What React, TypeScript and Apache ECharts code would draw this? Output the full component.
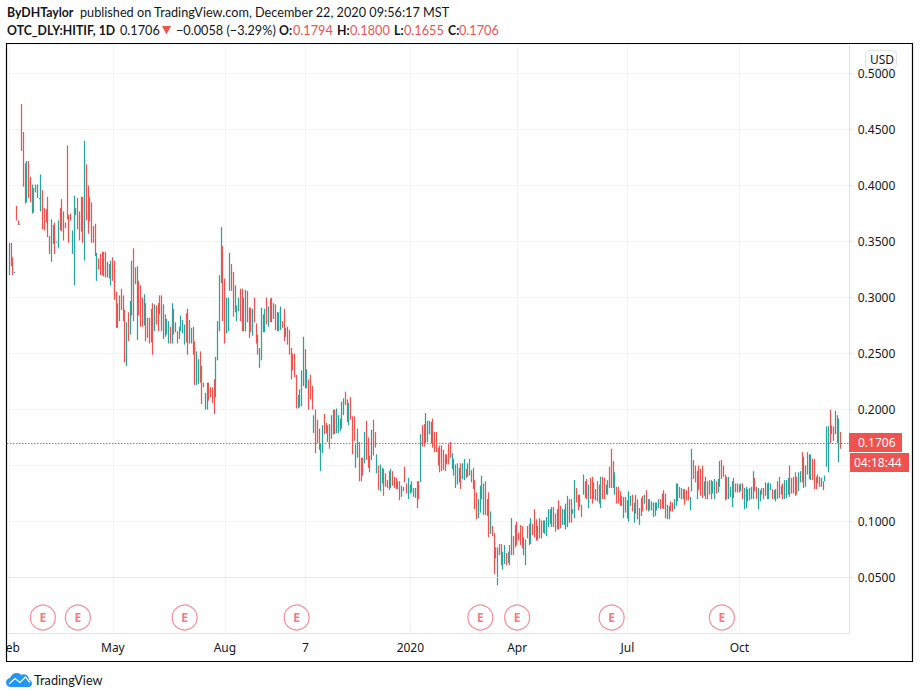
import React, { useEffect, useRef } from "react";
import * as echarts from "echarts";

// Each row: [high, low, up(1) / down(0)]
const barsFeb2019: number[][] = [
[.349,.320,1],[.349,.328,0],[.336,.320,0],[.323,.322,1],[.382,.369,0],[.369,.365,0],[.366,.365,1],[.473,.431,0],[.448,.399,0],[.420,.384,0],
[.422,.385,1],[.422,.389,0],[.408,.385,0],[.401,.375,1],[.398,.376,0],[.401,.394,1],[.401,.389,1],[.389,.388,1],[.410,.377,1],[.396,.361,0],
[.380,.360,0],[.379,.367,0],[.390,.354,0],[.355,.339,0],[.370,.332,1],[.365,.348,1],[.367,.339,0],[.350,.349,1],[.369,.344,1],[.380,.360,0],
[.388,.359,0],[.377,.351,0],[.367,.362,0],[.436,.370,0],[.374,.349,0],[.375,.369,0],[.360,.339,1],[.391,.311,1],[.380,.374,1],[.389,.361,0],
[.377,.351,0],[.390,.359,0],[.390,.349,0],[.440,.333,1],[.419,.369,0],[.400,.357,0],[.390,.368,0],[.385,.349,0],[.364,.349,0],[.366,.337,0],
[.340,.315,1],[.335,.325,0],[.339,.320,0],[.341,.320,0],[.341,.319,0],[.341,.318,0],[.332,.318,1],[.330,.317,0],[.333,.311,1],[.336,.315,0],[.333,.298,0],
];
const barsMay2019: number[][] = [
[.305,.273,0],[.295,.273,0],[.302,.279,1],[.308,.289,0],[.302,.279,0],[.289,.242,0],[.278,.239,1],[.287,.261,0],[.297,.267,1],[.333,.284,1],
[.344,.279,0],[.327,.312,0],[.328,.262,1],[.315,.284,0],[.311,.274,0],[.300,.274,0],[.303,.275,1],[.295,.261,0],[.282,.264,0],[.282,.259,0],
[.290,.260,0],[.295,.249,0],[.294,.270,1],[.293,.276,0],[.295,.270,0],[.302,.285,0],[.302,.270,0],[.294,.263,1],[.285,.265,0],[.281,.267,1],
[.279,.259,1],[.274,.259,0],[.295,.259,1],[.290,.267,0],[.278,.269,1],[.270,.259,0],[.274,.263,1],[.284,.270,1],[.280,.268,1],[.276,.258,1],
[.286,.260,0],[.290,.249,0],[.280,.259,1],[.273,.259,1],[.274,.249,0],[.261,.222,0],[.252,.222,1],[.245,.223,1],[.252,.224,0],[.239,.205,0],
[.224,.220,0],[.215,.200,1],[.224,.200,1],[.224,.208,0],[.220,.211,0],[.220,.206,0],[.227,.196,0],[.247,.211,1],[.279,.244,1],[.320,.270,1],
];
const barsAug2019: number[][] = [
[.363,.313,1],[.346,.279,0],[.317,.259,0],[.300,.268,1],[.300,.270,1],[.340,.306,1],[.330,.306,0],[.323,.283,0],[.311,.287,1],[.293,.279,1],
[.300,.288,1],[.308,.279,0],[.308,.270,0],[.300,.270,1],[.307,.270,1],[.306,.278,0],[.291,.264,0],[.291,.269,0],[.290,.266,1],[.300,.278,0],
[.277,.259,0],[.267,.249,0],[.255,.237,1],[.291,.244,1],[.285,.269,1],[.290,.269,1],[.300,.276,0],[.292,.274,1],[.299,.278,0],[.300,.278,0],
[.295,.281,1],[.294,.271,0],[.287,.270,0],[.287,.270,1],[.292,.271,1],[.279,.273,0],[.290,.261,0],[.273,.265,1],[.274,.258,0],[.271,.249,0],
[.255,.227,0],[.250,.235,0],[.250,.229,0],[.231,.201,0],[.213,.201,1],[.218,.202,1],[.235,.203,1],[.265,.221,1],[.254,.219,0],[.236,.219,1],
];
const barsOct2019: number[][] = [
[.227,.200,0],[.231,.209,0],[.221,.200,0],[.195,.179,1],[.200,.161,0],[.191,.170,0],[.183,.164,0],[.170,.145,1],[.186,.161,1],[.196,.178,0],
[.188,.179,0],[.186,.171,1],[.187,.165,0],[.195,.174,1],[.200,.178,1],[.200,.178,0],[.201,.179,1],[.195,.179,1],[.192,.181,1],[.207,.183,1],
[.210,.195,1],[.216,.204,0],[.209,.189,0],[.206,.186,1],[.211,.191,0],[.194,.160,0],[.194,.172,0],[.169,.148,1],[.183,.157,1],[.171,.136,0],
[.157,.136,0],[.157,.141,0],[.180,.152,1],[.190,.155,0],[.175,.148,0],[.159,.144,0],[.182,.155,1],[.191,.159,0],[.180,.166,0],[.160,.143,1],
[.150,.128,0],[.151,.127,1],[.148,.134,1],[.147,.123,0],[.143,.131,0],[.137,.130,0],[.145,.128,0],[.147,.130,1],[.145,.132,0],[.140,.130,0],
[.139,.129,0],[.136,.129,1],[.136,.119,0],[.132,.122,1],[.131,.127,1],[.149,.135,0],[.134,.125,0],[.139,.120,1],[.133,.125,1],[.136,.126,1],
];
const barsJan2020: number[][] = [
[.130,.122,1],[.130,.121,1],[.136,.112,0],[.136,.120,0],[.178,.135,1],[.186,.167,0],[.187,.167,0],[.197,.170,1],[.190,.171,1],[.190,.178,1],
[.189,.170,1],[.192,.166,0],[.180,.162,0],[.180,.162,0],[.166,.150,0],[.168,.144,0],[.168,.145,0],[.164,.146,0],[.160,.145,0],[.160,.151,0],
[.169,.151,0],[.171,.157,0],[.161,.147,1],[.156,.141,1],[.151,.130,1],[.152,.133,1],[.148,.135,1],[.152,.129,0],[.152,.138,1],[.156,.137,1],
[.147,.139,0],[.152,.140,1],[.156,.141,1],[.146,.135,1],[.148,.129,0],[.137,.111,0],[.126,.102,0],[.120,.103,1],[.132,.108,1],[.141,.120,1],
[.134,.106,1],[.136,.106,0],[.120,.105,0],[.126,.086,0],[.109,.089,1],[.096,.087,0],[.090,.053,0],[.077,.067,0],[.077,.043,1],[.080,.070,0],
[.080,.061,0],[.073,.057,1],[.079,.062,1],[.072,.061,0],[.073,.063,1],[.079,.061,0],[.103,.070,1],[.087,.070,0],[.097,.077,0],[.100,.079,0],
];
const barsApr2020: number[][] = [
[.090,.083,0],[.097,.079,0],[.096,.076,0],[.086,.070,1],[.084,.061,1],[.096,.085,0],[.098,.079,0],[.103,.080,1],[.098,.088,0],[.111,.086,0],
[.102,.083,0],[.096,.083,1],[.103,.085,0],[.101,.085,0],[.101,.090,0],[.101,.089,1],[.104,.087,1],[.111,.095,1],[.111,.098,1],[.113,.095,1],
[.113,.095,0],[.107,.091,0],[.111,.093,1],[.119,.093,0],[.114,.094,0],[.111,.097,1],[.111,.097,1],[.116,.093,1],[.123,.095,1],[.120,.099,0],
[.120,.099,0],[.111,.107,1],[.137,.103,1],[.130,.117,0],[.124,.110,0],[.124,.113,0],[.115,.104,0],[.142,.124,1],[.136,.121,0],[.138,.120,0],
[.133,.112,1],[.139,.120,0],[.140,.116,0],[.135,.120,0],[.129,.119,1],[.136,.118,0],[.133,.116,0],[.140,.112,1],[.140,.120,0],[.139,.120,0],
[.133,.124,1],[.137,.124,1],[.149,.130,0],[.165,.130,0],[.154,.130,0],[.144,.124,1],[.131,.116,0],[.131,.116,0],[.127,.114,0],[.123,.114,0],
];
const barsJul2020: number[][] = [
[.122,.103,1],[.122,.108,0],[.119,.103,1],[.127,.100,1],[.123,.114,1],[.124,.109,0],[.117,.099,1],[.124,.107,0],[.120,.102,0],[.112,.097,1],
[.121,.105,0],[.123,.109,0],[.124,.116,1],[.128,.110,0],[.120,.109,1],[.120,.110,0],[.118,.110,1],[.117,.104,1],[.117,.105,1],[.117,.110,1],
[.120,.112,1],[.120,.111,0],[.125,.112,0],[.128,.111,0],[.125,.103,0],[.115,.102,1],[.114,.102,1],[.118,.109,0],[.117,.109,0],[.120,.111,1],
[.134,.114,1],[.134,.118,1],[.131,.121,0],[.130,.120,1],[.129,.120,1],[.129,.115,0],[.128,.119,0],[.131,.119,0],[.122,.110,1],[.165,.127,1],
[.155,.138,0],[.150,.135,0],[.145,.120,1],[.150,.128,0],
];
const barsSep2020: number[][] = [
[.147,.123,0],[.150,.121,0],[.136,.123,1],[.140,.120,0],[.136,.120,0],[.137,.124,1],[.137,.120,0],[.136,.125,1],[.138,.120,1],[.136,.125,0],
[.138,.126,1],[.154,.131,1],[.155,.138,0],[.150,.140,0],[.142,.119,0],[.140,.120,0],[.140,.120,1],[.131,.122,1],[.136,.113,1],[.139,.121,0],
[.134,.126,0],[.134,.126,0],[.133,.126,0],[.134,.127,1],[.134,.120,0],[.130,.111,1],[.131,.112,1],[.129,.118,1],[.130,.119,1],[.131,.120,1],
[.145,.120,1],[.139,.127,0],[.131,.120,0],[.130,.111,1],[.128,.118,1],[.130,.124,0],[.130,.120,0],[.135,.123,1],[.134,.120,0],[.135,.120,1],
[.134,.128,1],[.129,.120,0],[.128,.120,1],[.129,.118,1],[.136,.120,0],[.140,.121,0],
];
const barsNov2020: number[][] = [
[.132,.124,1],[.134,.120,0],[.137,.120,1],[.137,.121,1],[.139,.124,1],[.150,.122,0],[.139,.125,0],[.140,.125,0],[.144,.123,0],[.140,.124,0],
[.144,.127,1],[.145,.135,1],[.162,.135,0],[.158,.130,1],[.150,.131,1],[.162,.142,0],[.160,.138,1],[.160,.137,1],[.156,.137,0],[.156,.129,0],
[.140,.129,0],[.142,.134,1],[.140,.131,0],[.139,.131,1],[.136,.128,0],[.141,.136,1],[.185,.149,1],[.185,.144,1],[.200,.170,0],[.186,.178,0],
[.185,.172,0],[.199,.178,1],[.195,.170,0],[.192,.153,1],[.180,.165,0],
];
const allBars = [...barsFeb2019, ...barsMay2019, ...barsAug2019, ...barsOct2019, ...barsJan2020, ...barsApr2020, ...barsJul2020, ...barsSep2020, ...barsNov2020];

const tickNames = ["Feb", "May", "Aug", "7", "2020", "Apr", "Jul", "Oct"];
const tickSlots = [1, 60, 124, 170, 230, 291, 354, 418];
const earningsSlots = [20, 40, 101, 165, 270, 291, 345, 408];
const earningsLevel = 0.0143;
const lastPrice = 0.1706;
const slotCount = 481;
const yMax = 0.52608;

const RED = "#ef5350";
const TEAL = "#26a69a";
const INK = "#131722";
const FONT = "'Noto Sans', sans-serif";
const HEAD_FONT = "Lato, sans-serif";

const cloudPath =
  "M5 15 C2 15 0 13 0 10.5 C0 8 2 6.3 4 6 C5 3 7.5 1 10.5 1 C12.5 1 14 1.6 15.5 3 C17 2 19 2 20.5 3 C22 4 23 5.5 23 7.5 C25 8.5 26 10 26 11.5 C26 13.5 24.5 15 22.5 15 Z";
echarts.graphic.registerShape("tvcloud", echarts.graphic.extendPath(cloudPath as any, {}) as any);

const headerTexts: [string, number, number, string, string][] = [
  ["ByDHTaylor", 7, 12, "bold", INK],
  ["published on TradingView.com, December 22, 2020 09:56:17 MST", 80, 12, "normal", INK],
  ["OTC_DLY:HITIF, 1D", 7, 30, "bold", INK],
  ["0.1706", 120, 30, "normal", INK],
  ["\u22120.0058 (\u22123.29%)", 176, 30, "normal", INK],
  ["O:", 279, 30, "bold", INK],
  ["0.1794", 293, 30, "normal", RED],
  ["H:", 337, 30, "bold", INK],
  ["0.1800", 350, 30, "normal", RED],
  ["L:", 394, 30, "bold", INK],
  ["0.1655", 404, 30, "normal", RED],
  ["C:", 448, 30, "bold", INK],
  ["0.1706", 459, 30, "normal", RED],
];

export default function App() {
  const ref = useRef<HTMLDivElement>(null);
  useEffect(() => {
    document.body.style.margin = "0";
    const chart = echarts.init(ref.current!, undefined, { renderer: "svg" });
    const categories = Array.from({ length: slotCount }, () => "");
    tickNames.forEach((n, i) => (categories[tickSlots[i]] = n));
    const labelled = (_: number, v: string) => v !== "";
    const candles = allBars.map(([h, l, up], i) => [i + 1, up ? l : h, up ? h : l, l, h]);
    const txt = (text: string, x: number, y: number, opt: any = {}) => ({
      type: "text",
      x,
      y,
      z: 110,
      silent: true,
      style: { text, fill: INK, font: `13px ${FONT}`, textVerticalAlign: "middle", ...opt },
    });
    chart.setOption({
      animation: false,
      backgroundColor: "#fff",
      grid: { left: 7, right: 71.25, top: 44.5, bottom: 64.5, containLabel: false, outerBoundsMode: "none" },
      xAxis: {
        type: "category",
        data: categories,
        boundaryGap: true,
        axisLine: { lineStyle: { color: "#e0e3eb" } },
        axisTick: { alignWithLabel: true, interval: labelled, length: 4, lineStyle: { color: "#e0e3eb" } },
        axisLabel: { interval: labelled, color: INK, fontSize: 12, fontFamily: FONT, margin: 8 },
        splitLine: { show: true, alignWithLabel: true, interval: labelled, lineStyle: { color: "#f0f3fa" } },
      },
      yAxis: {
        type: "value",
        position: "right",
        min: 0,
        max: yMax,
        interval: 0.05,
        scale: false,
        axisLine: { show: true, lineStyle: { color: "#e0e3eb" } },
        axisTick: { show: true, length: 4, lineStyle: { color: "#e0e3eb" } },
        axisLabel: {
          color: INK,
          fontSize: 12,
          fontFamily: FONT,
          margin: 9,
          showMinLabel: false,
          showMaxLabel: false,
          formatter: (v: number) => (Math.abs(v - 0.15) < 1e-6 ? "" : v.toFixed(4)),
        },
        splitLine: { lineStyle: { color: "#f0f3fa" } },
      },
      series: [
        {
          type: "candlestick",
          data: candles,
          encode: { x: 0, y: [1, 2, 3, 4] },
          barWidth: 0.2,
          clip: true,
          itemStyle: { color: TEAL, color0: RED, borderColor: TEAL, borderColor0: RED, borderWidth: 1.25 },
          markLine: {
            silent: true,
            symbol: "none",
            animation: false,
            label: { show: false },
            data: [
              { yAxis: lastPrice, lineStyle: { color: RED, type: [1.5, 1.5], width: 1.2, opacity: 1 } },
              { yAxis: 0.05, lineStyle: { color: "#e6e8ee", type: "solid", width: 1 } },
            ],
          },
        },
        {
          type: "scatter",
          data: earningsSlots.map((s) => [s, earningsLevel]),
          symbol: "circle",
          symbolSize: 25,
          z: 5,
          itemStyle: { color: "#fff", borderColor: "#f7717d", borderWidth: 1.2 },
          label: {
            show: true,
            position: "inside",
            formatter: "E",
            color: "#f7525f",
            fontSize: 12,
            fontWeight: "bold",
            fontFamily: FONT,
          },
        },
      ],
      graphic: [
        { type: "rect", z: 100, silent: true, shape: { x: 0, y: 0, width: 6, height: 698 }, style: { fill: "#fff" } },
        { type: "rect", z: 101, silent: true, shape: { x: 6.5, y: 43.5, width: 906, height: 618 }, style: { fill: "none", stroke: "#000", lineWidth: 1.2 } },
        ...headerTexts.map(([t, x, y, w, c]) => txt(t, x, y, { fill: c, font: `${w} ${w === "bold" ? 12.3 : 12.7}px ${HEAD_FONT}` })),
        { type: "polygon", z: 110, silent: true, shape: { points: [[162, 26], [171, 26], [166.5, 34.5]] }, style: { fill: RED } },
        { type: "rect", z: 105, silent: true, shape: { x: 849, y: 433, width: 53, height: 19 }, style: { fill: RED } },
        txt("0.1706", 858, 442.5, { fill: "#fff", font: `12px ${FONT}` }),
        { type: "rect", z: 105, silent: true, shape: { x: 850, y: 453, width: 59, height: 19 }, style: { fill: RED } },
        txt("04:18:44", 854, 462.5, { fill: "#fff", font: `12px ${FONT}` }),
        { type: "rect", z: 105, silent: true, shape: { x: 865.5, y: 50.5, width: 31, height: 18, r: 4 }, style: { fill: "rgba(255,255,255,0.9)", stroke: "#e0e3eb", lineWidth: 1 } },
        txt("USD", 870, 59.5, { font: `12px ${FONT}` }),
        { type: "tvcloud", x: 6, y: 672, z: 110, silent: true, style: { fill: "#2196f3" } },
        { type: "polyline", x: 6, y: 672, z: 111, silent: true, shape: { points: [[3, 12], [9, 6.5], [14, 10.5], [19.5, 5], [24, 10.5]] }, style: { stroke: "#fff", lineWidth: 1.2, fill: "none" } },
        txt("TradingView", 34, 680, { font: `12.7px ${HEAD_FONT}` }),
      ],
    });
    return () => chart.dispose();
  }, []);
  return <div ref={ref} style={{ width: 920, height: 698 }} />;
}
